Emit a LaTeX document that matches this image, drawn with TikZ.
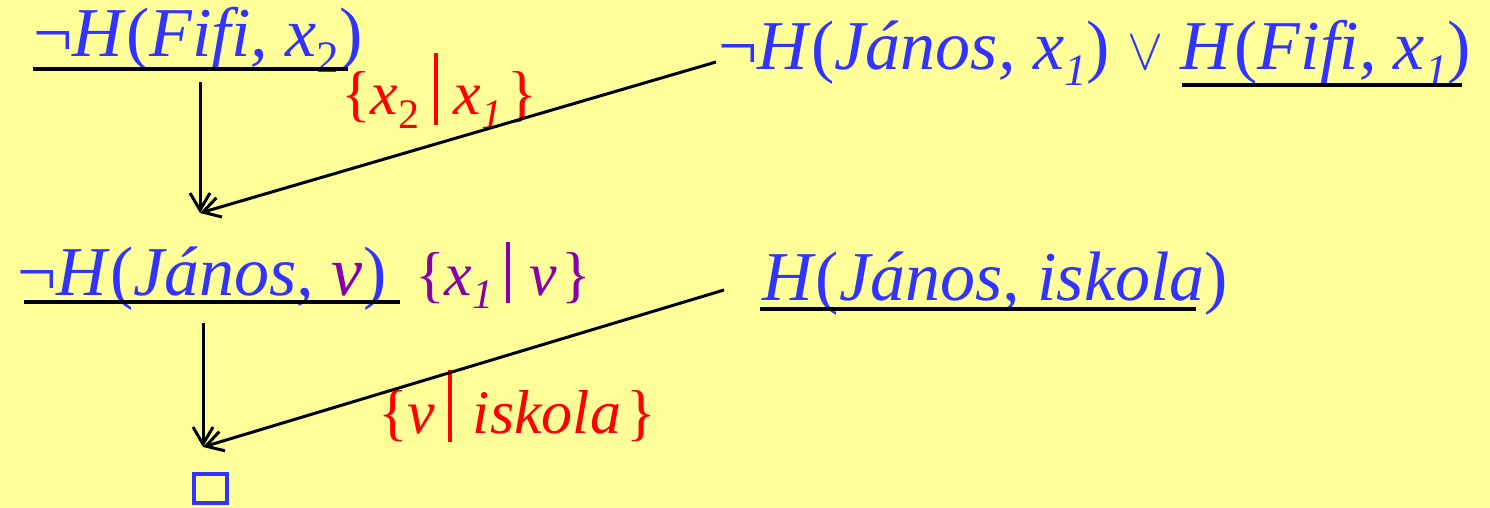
\documentclass[tikz,border=0pt]{standalone}
\usepackage{fontspec}
\setmainfont{LiberationSerif}[Extension=.ttf, UprightFont=*-Regular, ItalicFont=*-Italic, BoldFont=*-Bold, BoldItalicFont=*-BoldItalic]
\usetikzlibrary{arrows.meta}
\definecolor{bg}{RGB}{255,255,153}
\definecolor{tblue}{RGB}{51,51,255}
\definecolor{tred}{RGB}{255,0,0}
\definecolor{tpurp}{RGB}{136,0,170}
\newcommand{\sbs}[1]{\raisebox{-0.22em}{\fontsize{45}{45}\selectfont #1}}
\newcommand{\sbsr}[1]{\raisebox{-0.22em}{\fontsize{42}{42}\selectfont #1}}
\newcommand{\vbar}[2]{\rule[-#1pt]{3.5pt}{#2pt}}
\newcommand{\orsym}{\resizebox{36pt}{33pt}{$\vee$}}
\begin{document}
\begin{tikzpicture}[x=1pt,y=-1pt,
  lit/.style={anchor=base west, inner sep=0pt, text=tblue, font=\fontsize{70}{84}\selectfont},
  subst/.style={anchor=base west, inner sep=0pt, font=\fontsize{62}{74}\selectfont},
  uline/.style={line width=3.8pt, black},
  arr/.style={line width=3pt, black, -{Straight Barb[length=17pt,width=20pt]}}]
\useasboundingbox (0,0) rectangle (1490,508);
\path[fill=bg] (0,0) rectangle (1490,508);
% clauses
\node[lit] (n1) at (33,57) {¬\textit{H}(\textit{Fifi, x}\sbs{2})};
\node[lit] (n2) at (718,70) {¬\textit{H}(\textit{János, x}\sbs{\textit{1}}) \orsym{} \textit{H}(\textit{Fifi, x}\sbs{\textit{1}})};
\node[lit] (n3) at (17,295) {¬\textit{H}(\textit{János, \textcolor{tpurp}{v}})};
\node[lit] (n4) at (762,300) {\textit{H}(\textit{János, iskola})};
\node[draw=tblue, line width=4pt, minimum width=33pt, minimum height=29pt, inner sep=0pt] (box) at (210,488) {};
% substitutions
\node[subst, text=tred] (s1) at (341,115) {\{\textit{x}\sbsr{2}\hspace{15pt}\vbar{10}{72}\hspace{16pt}\textit{x}\sbsr{\textit{1}}\hspace{5pt}\}};
\node[subst, text=tpurp] (s2) at (415,295) {\{\textit{x}\sbsr{\textit{1}}\hspace{13pt}\vbar{8}{61}\hspace{20pt}\textit{v}\hspace{4pt}\}};
\node[subst, text=tred] (s3) at (378,433) {\{\textit{v}\hspace{13pt}\vbar{9}{72}\hspace{21pt}\textit{iskola}\hspace{5pt}\}};
% underlines
\draw[uline] (33,69) -- (348,69);
\draw[uline] (1182,85) -- (1462,85);
\draw[uline] (24,302) -- (400,302);
\draw[uline] (760,309) -- (1196,309);
% connectors
\coordinate (a1) at (200,82);
\coordinate (a2) at (716,62);
\coordinate (t1) at (200,213);
\coordinate (a3) at (203,323);
\coordinate (a4) at (724,290);
\coordinate (t2) at (203,447);
\draw[arr] (a1) -- (t1);
\draw[arr] (a2) -- (t1);
\draw[arr] (a3) -- (t2);
\draw[arr] (a4) -- (t2);
\end{tikzpicture}
\end{document}
